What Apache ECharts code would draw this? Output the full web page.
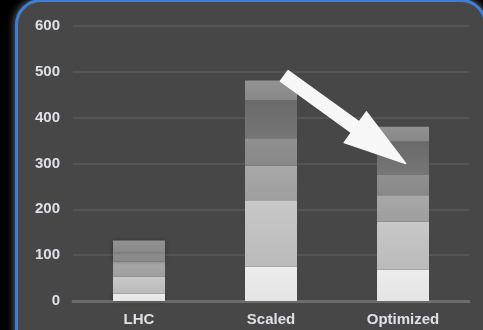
<!DOCTYPE html>
<html>
<head>
<meta charset="utf-8">
<script src="https://cdn.jsdelivr.net/npm/echarts@6/dist/echarts.min.js"></script>
<style>
  html, body { margin: 0; padding: 0; background: #000; overflow: hidden; }
  #frame {
    position: absolute; left: 15px; top: -1px; width: 466px; height: 400px;
    border: 3px solid #3b7fd6; border-radius: 26px; background: #474747;
    box-shadow: 0 0 6px 2px rgba(140,140,140,0.55);
  }
  #chart { position: absolute; left: 0; top: 0; width: 483px; height: 330px; }
</style>
</head>
<body>
<div id="frame"></div>
<div id="chart"></div>
<script>
// Categories and stacked segment values (bottom segment first)
const categories = ['LHC', 'Scaled', 'Optimized'];
const seg1 = [16, 75, 68];
const seg2 = [37, 145, 105];
const seg3 = [34, 75, 58];
const seg4 = [20, 60, 44];
const seg5 = [0, 83, 73];
const seg6 = [25, 43, 32];
const yTicks = [0, 100, 200, 300, 400, 500, 600];

// Arrow annotation endpoints in data space: [category position, value]
const arrowFrom = [1.1, 491];
const arrowTo = [2.02, 300];

const segments = [seg1, seg2, seg3, seg4, seg5, seg6];
const segColors = [
  ['#ececec', '#e4e4e4'],
  ['#c8c8c8', '#bababa'],
  ['#a8a8a8', '#9e9e9e'],
  ['#909090', '#888888'],
  ['#6a6a6a', '#767676'],
  ['#929292', '#888888']
];

const chart = echarts.init(document.getElementById('chart'), null, { renderer: 'canvas' });

const series = segments.map((vals, i) => ({
  type: 'bar',
  stack: 'total',
  data: vals,
  barWidth: 52,
  itemStyle: {
    color: new echarts.graphic.LinearGradient(0, 0, 0, 1, [
      { offset: 0, color: segColors[i][0] },
      { offset: 1, color: segColors[i][1] }
    ]),
    shadowBlur: 4,
    shadowColor: 'rgba(0,0,0,0.35)'
  },
  emphasis: { disabled: true },
  silent: true
}));

chart.setOption({
  backgroundColor: 'transparent',
  animation: false,
  grid: { left: 73, right: 14, top: 26, bottom: 29 },
  xAxis: {
    type: 'category',
    data: categories,
    axisLine: { show: true, lineStyle: { color: '#6c6c6c', width: 3 } },
    axisTick: { show: false },
    axisLabel: {
      color: '#dde0e6', fontSize: 15, fontWeight: 'bold',
      fontFamily: 'Liberation Sans, Arial, sans-serif', margin: 11
    }
  },
  yAxis: {
    type: 'value',
    min: yTicks[0],
    max: yTicks[yTicks.length - 1],
    interval: 100,
    axisLine: { show: false },
    axisTick: { show: false },
    splitLine: { lineStyle: { color: '#545454', width: 2 } },
    axisLabel: {
      color: '#dde0e6', fontSize: 15, fontWeight: 'bold',
      fontFamily: 'Liberation Sans, Arial, sans-serif', margin: 13
    }
  },
  series: series
});

// Arrow drawn through the axes' own coordinate conversion
function toPixel(pt) {
  const c0 = chart.convertToPixel({ xAxisIndex: 0 }, 0);
  const c1 = chart.convertToPixel({ xAxisIndex: 0 }, 1);
  const x = c0 + (c1 - c0) * pt[0];
  const y = chart.convertToPixel({ yAxisIndex: 0 }, pt[1]);
  return [x, y];
}

const p0 = toPixel(arrowFrom);
const p1 = toPixel(arrowTo);
const dx = p1[0] - p0[0], dy = p1[1] - p0[1];
const len = Math.sqrt(dx * dx + dy * dy);
const ux = dx / len, uy = dy / len;
const px = -uy, py = ux;
const shaftHalf = 6.5, headHalf = 19, headLen = 62;
const bx = p1[0] - ux * headLen, by = p1[1] - uy * headLen;
const arrowPts = [
  [p0[0] + px * shaftHalf, p0[1] + py * shaftHalf],
  [bx + px * shaftHalf, by + py * shaftHalf],
  [bx + px * headHalf, by + py * headHalf],
  [p1[0], p1[1]],
  [bx - px * headHalf, by - py * headHalf],
  [bx - px * shaftHalf, by - py * shaftHalf],
  [p0[0] - px * shaftHalf, p0[1] - py * shaftHalf]
];

chart.setOption({
  graphic: [{
    type: 'polygon',
    shape: { points: arrowPts },
    style: { fill: '#f7f7f7', stroke: '#f7f7f7', lineWidth: 1.5, lineJoin: 'round' },
    z: 100,
    silent: true
  }]
});
</script>
</body>
</html>
